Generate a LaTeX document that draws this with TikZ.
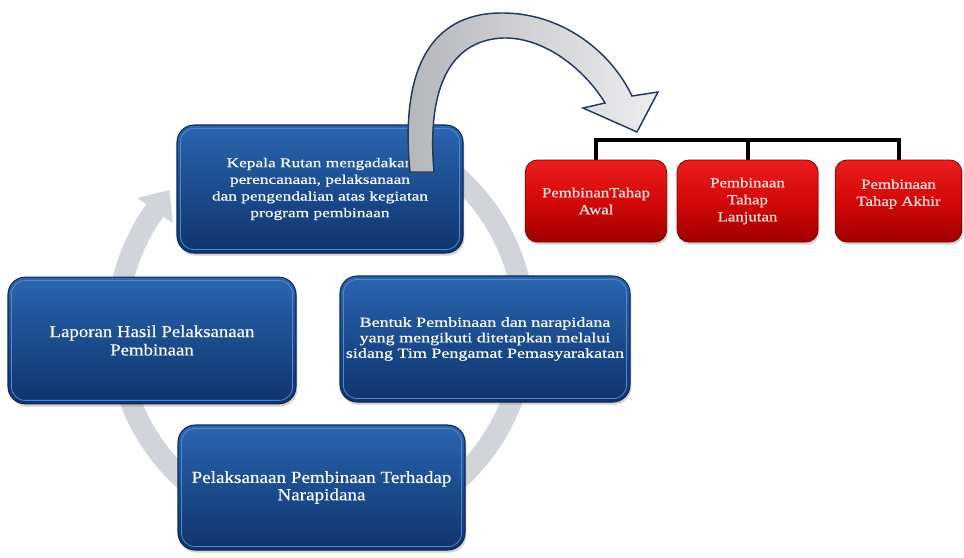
\documentclass[tikz,border=0pt]{standalone}
\usepackage{fontspec}
\setmainfont{Liberation Serif}
\newfontfamily\tf[FakeStretch=1.12,FakeBold=0.3]{Liberation Serif}
\newfontfamily\tfw[FakeStretch=1.3,FakeBold=0.3]{Liberation Serif}
\newfontfamily\tfr[FakeStretch=1.2,FakeBold=0.3]{Liberation Serif}
\usetikzlibrary{shadows}
\definecolor{bluetop}{RGB}{44,102,176}
\definecolor{bluemid}{RGB}{27,76,142}
\definecolor{bluebot}{RGB}{16,52,108}
\definecolor{blueedge}{RGB}{12,40,88}
\definecolor{bluehl}{RGB}{80,135,205}
\definecolor{redtop}{RGB}{235,30,30}
\definecolor{redmid}{RGB}{212,8,8}
\definecolor{redbot}{RGB}{160,0,0}
\definecolor{redtext}{RGB}{255,230,228}
\definecolor{ringc}{RGB}{210,212,219}
\definecolor{arrowedge}{RGB}{36,58,92}
\definecolor{arrowdark}{RGB}{180,181,185}
\definecolor{arrowlight}{RGB}{238,238,240}
\tikzset{
  bluebox/.style={rounded corners=13pt, minimum width=216pt, minimum height=95pt,
    top color=bluetop, bottom color=bluebot, middle color=bluemid,
    draw=blueedge, line width=0.8pt, text=white, align=center, inner sep=2pt,
    drop shadow={opacity=0.35, shadow xshift=1pt, shadow yshift=-2pt}},
  redbox/.style={rounded corners=9pt, minimum width=106pt, minimum height=61.5pt,
    top color=redtop, bottom color=redbot, middle color=redmid,
    draw=redbot!80!black, line width=0.6pt, text=redtext, align=center, inner sep=2pt,
    font=\tfr\fontsize{10.5}{12.75}\selectfont,
    drop shadow={opacity=0.35, shadow xshift=1pt, shadow yshift=-2pt}},
  bracket/.style={line width=3pt, black},
  ring/.style={line width=15.75pt, ringc},
  bigarrow/.style={draw=arrowedge, line width=1.1pt, left color=arrowdark, right color=arrowlight}
}
\begin{document}
\begin{tikzpicture}[x=0.75pt,y=-0.75pt]
\useasboundingbox (0,0) rectangle (964,557);
\fill[white] (0,0) rectangle (964,557);

% grey cycle ring
\draw[ring] (423,152) arc[start angle=-60, end angle=215.5, radius=204];
\fill[ringc] (137,197.8) -- (169.4,190.1) -- (172.8,223.2) -- cycle;

% blue boxes
\node[bluebox, minimum width=214.5pt, minimum height=96pt,
  font=\tfw\fontsize{10}{12.5}\selectfont] (t) at (320,189)
  {Kepala Rutan mengadakan\\perencanaan, pelaksanaan\\dan pengendalian atas kegiatan\\program pembinaan};
\node[bluebox, font=\tf\fontsize{12.6}{13.8}\selectfont] (l) at (152,340.5)
  {Laporan Hasil Pelaksanaan\\Pembinaan};
\node[bluebox, minimum width=217.5pt, minimum height=94.5pt,
  font=\tfw\fontsize{10.4}{11.6}\selectfont] (r) at (485,339)
  {Bentuk Pembinaan dan narapidana\\yang mengikuti ditetapkan melalui\\sidang Tim Pengamat Pemasyarakatan};
\node[bluebox, minimum width=215.25pt, minimum height=93.75pt,
  font=\tf\fontsize{12.8}{13}\selectfont] (b) at (321.5,487.5)
  {Pelaksanaan Pembinaan Terhadap\\Narapidana};
\foreach \n in {t,l,r,b}{
  \draw[bluehl, line width=0.6pt, rounded corners=10pt]
    ([shift={(3pt,-3pt)}]\n.north west) rectangle ([shift={(-3pt,3pt)}]\n.south east);
}

% big curved arrow
\path[bigarrow] (410,172) .. controls (400,70) and (430,14) .. (500,13)
  .. controls (560,12) and (610,50) .. (632,96)
  -- (658,92) -- (637,132) -- (583,108) -- (605,103)
  .. controls (585,70) and (545,37) .. (503,38)
  .. controls (455,40) and (426,80) .. (434,172) -- cycle;

% red boxes
\node[redbox] (r1) at (596,201) {PembinanTahap\\Awal};
\node[redbox, minimum width=105.75pt] (r2) at (747.5,201) {Pembinaan\\Tahap\\Lanjutan};
\node[redbox, minimum width=95pt] (r3) at (898.5,201) {Pembinaan\\Tahap Akhir\\\mbox{}};

% bracket
\coordinate (bar) at (750,140);
\draw[bracket] (r1.north) -- (r1.north |- bar) -- (r3.north |- bar) -- (r3.north);
\draw[bracket] (r2.north) -- (r2.north |- bar);
\end{tikzpicture}
\end{document}
